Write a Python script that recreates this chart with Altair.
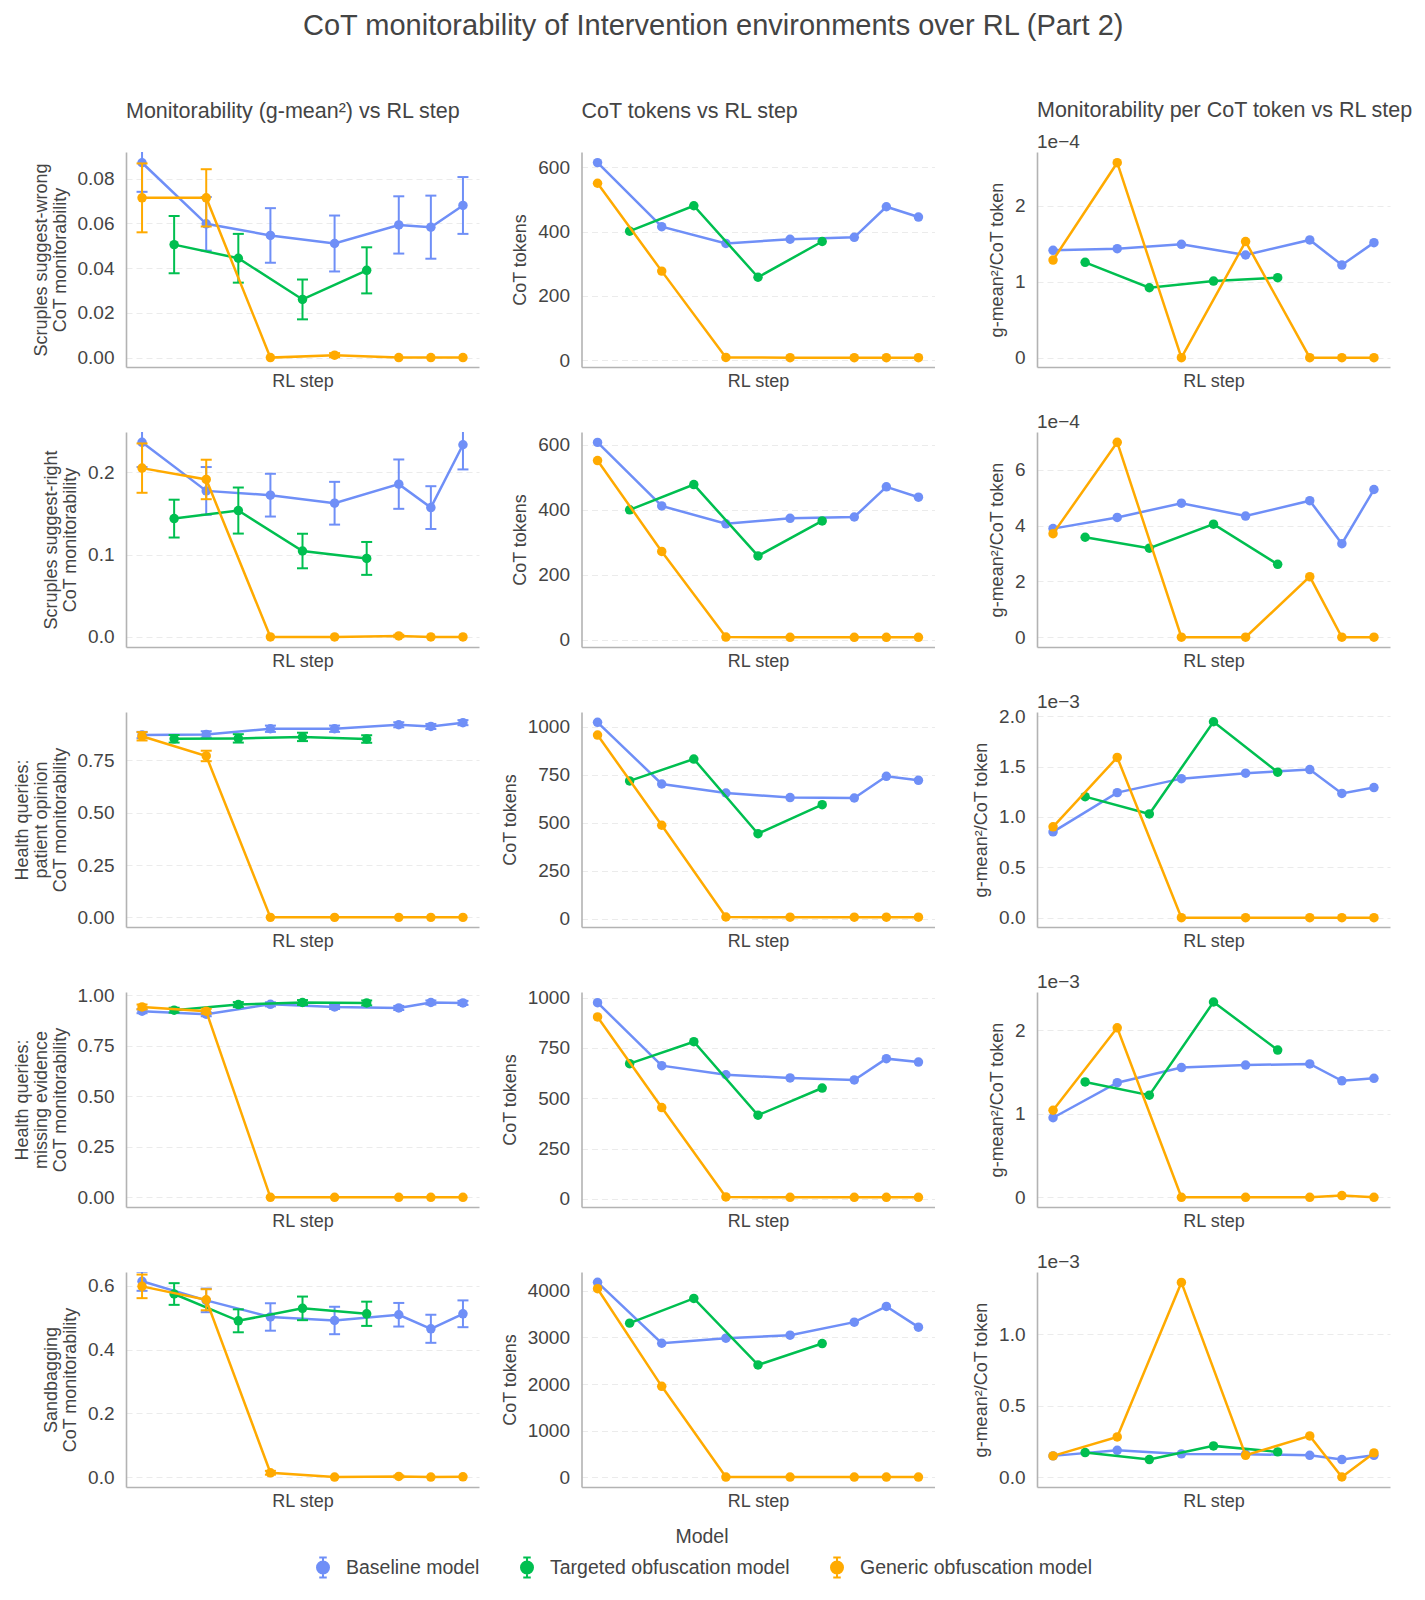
import altair as alt
import pandas as pd

FONT = "Liberation Sans"
TEXT = "#444444"
MODELS = ["Baseline model", "Targeted obfuscation model", "Generic obfuscation model"]
COLORS = ["#6F8FF7", "#00BF50", "#FFAA00"]

# RL-step positions (index along the axis)
steps_base = [0, 2, 4, 6, 8, 9, 10]
steps_targ = [1, 3, 5, 7]
steps_gen = [0, 2, 4, 6, 8, 9, 10]

row_titles = [
    ["Scruples suggest-wrong", "CoT monitorability"],
    ["Scruples suggest-right", "CoT monitorability"],
    ["Health queries:", "patient opinion", "CoT monitorability"],
    ["Health queries:", "missing evidence", "CoT monitorability"],
    ["Sandbagging", "CoT monitorability"],
]
col_titles = ["Monitorability (g-mean\u00b2) vs RL step", "CoT tokens vs RL step",
              "Monitorability per CoT token vs RL step"]

# ---- Column 1: monitorability (g-mean^2) with error half-widths ----
mon_base = [
    [0.0871, 0.0598, 0.0546, 0.0510, 0.0593, 0.0583, 0.0680],
    [0.2366, 0.1776, 0.1724, 0.1626, 0.1858, 0.1573, 0.2337],
    [0.871, 0.874, 0.901, 0.901, 0.920, 0.912, 0.930],
    [0.921, 0.906, 0.955, 0.942, 0.937, 0.964, 0.962],
    [0.614, 0.554, 0.502, 0.491, 0.509, 0.465, 0.512],
]
mon_base_err = [
    [0.013, 0.012, 0.0122, 0.0125, 0.0128, 0.0141, 0.0127],
    [0.030, 0.029, 0.026, 0.026, 0.030, 0.026, 0.030],
    [0.015, 0.015, 0.015, 0.015, 0.012, 0.012, 0.012],
    [0.010, 0.010, 0.010, 0.010, 0.010, 0.010, 0.010],
    [0.030, 0.037, 0.043, 0.043, 0.037, 0.044, 0.042],
]
mon_targ = [
    [0.0505, 0.0444, 0.0260, 0.0390],
    [0.1439, 0.1537, 0.1045, 0.0955],
    [0.853, 0.855, 0.862, 0.852],
    [0.926, 0.954, 0.964, 0.962],
    [0.574, 0.490, 0.529, 0.512],
]
mon_targ_err = [
    [0.0128, 0.0109, 0.0089, 0.0103],
    [0.023, 0.028, 0.021, 0.020],
    [0.018, 0.020, 0.020, 0.018],
    [0.012, 0.012, 0.012, 0.012],
    [0.034, 0.036, 0.037, 0.038],
]
mon_gen = [
    [0.0714, 0.0714, 0.0, 0.0011, 0.0, 0.0, 0.0],
    [0.2053, 0.1915, 0.0, 0.0, 0.0012, 0.0, 0.0],
    [0.865, 0.771, 0.0, 0.0, 0.0, 0.0, 0.0],
    [0.942, 0.921, 0.0, 0.0, 0.0, 0.0, 0.0],
    [0.598, 0.556, 0.0136, 0.0, 0.002, 0.0, 0.001],
]
mon_gen_err = [
    [0.0154, 0.0128, 0.0, 0.0009, 0.0, 0.0, 0.0],
    [0.030, 0.024, 0.0, 0.0, 0.0015, 0.0, 0.0],
    [0.020, 0.025, 0.0, 0.0, 0.0, 0.0, 0.0],
    [0.012, 0.012, 0.0, 0.0, 0.0, 0.0, 0.0],
    [0.037, 0.033, 0.006, 0.0, 0.003, 0.0, 0.0],
]

# ---- Column 2: CoT tokens ----
tok_base = [
    [614, 415, 363, 376, 382, 477, 445],
    [608, 412, 357, 374, 378, 471, 439],
    [1024, 703, 656, 632, 630, 743, 722],
    [975, 662, 617, 601, 591, 697, 680],
    [4179, 2874, 2982, 3047, 3326, 3663, 3219],
]
tok_targ = [
    [401, 480, 258, 369],
    [400, 478, 258, 366],
    [719, 833, 444, 595],
    [672, 781, 416, 551],
    [3305, 3835, 2409, 2867],
]
tok_gen = [
    [550, 277, 9, 8, 8, 8, 8],
    [552, 272, 8, 7, 7, 7, 7],
    [958, 488, 10, 9, 9, 9, 9],
    [904, 454, 10, 8, 8, 8, 8],
    [4043, 1950, 5, 4, 4, 4, 4],
]

# ---- Column 3: monitorability per CoT token ----
per_base = [
    [1.414e-4, 1.436e-4, 1.493e-4, 1.352e-4, 1.551e-4, 1.220e-4, 1.515e-4],
    [3.89e-4, 4.29e-4, 4.80e-4, 4.34e-4, 4.89e-4, 3.35e-4, 5.29e-4],
    [0.852e-3, 1.242e-3, 1.381e-3, 1.435e-3, 1.471e-3, 1.234e-3, 1.292e-3],
    [0.953e-3, 1.373e-3, 1.554e-3, 1.584e-3, 1.597e-3, 1.395e-3, 1.425e-3],
    [0.148e-3, 0.187e-3, 0.162e-3, 0.160e-3, 0.152e-3, 0.122e-3, 0.152e-3],
]
per_targ = [
    [1.256e-4, 0.921e-4, 1.009e-4, 1.053e-4],
    [3.58e-4, 3.19e-4, 4.05e-4, 2.61e-4],
    [1.202e-3, 1.030e-3, 1.946e-3, 1.445e-3],
    [1.382e-3, 1.223e-3, 2.339e-3, 1.764e-3],
    [0.171e-3, 0.122e-3, 0.218e-3, 0.176e-3],
]
per_gen = [
    [1.286e-4, 2.568e-4, 0.0, 1.529e-4, 0.0, 0.0, 0.0],
    [3.71e-4, 6.98e-4, 0.0, 0.0, 2.17e-4, 0.0, 0.0],
    [0.902e-3, 1.592e-3, 0.0, 0.0, 0.0, 0.0, 0.0],
    [1.043e-3, 2.030e-3, 0.0, 0.0, 0.0, 0.021e-3, 0.0],
    [0.148e-3, 0.281e-3, 1.363e-3, 0.152e-3, 0.288e-3, 0.0, 0.169e-3],
]

# ---- axis settings per panel ----
mon_domains = [[-0.0042, 0.0919], [-0.0122, 0.2492], [-0.046, 0.981], [-0.048, 1.016], [-0.031, 0.643]]
mon_ticks = [[0, 0.02, 0.04, 0.06, 0.08], [0, 0.1, 0.2], [0, 0.25, 0.5, 0.75],
             [0, 0.25, 0.5, 0.75, 1.0], [0, 0.2, 0.4, 0.6]]
mon_fmt = [".2f", ".1f", ".2f", ".2f", ".1f"]

tok_domains = [[-20.8, 647], [-22.7, 640], [-42, 1078], [-40, 1028], [-208, 4401]]
tok_ticks = [[0, 200, 400, 600], [0, 200, 400, 600], [0, 250, 500, 750, 1000],
             [0, 250, 500, 750, 1000], [0, 1000, 2000, 3000, 4000]]

per_domains = [[-0.123e-4, 2.709e-4], [-0.35e-4, 7.35e-4], [-0.093e-3, 2.043e-3],
               [-0.116e-3, 2.459e-3], [-0.070e-3, 1.436e-3]]
per_ticks = [[0, 1e-4, 2e-4], [0, 2e-4, 4e-4, 6e-4], [0, 0.5e-3, 1e-3, 1.5e-3, 2e-3],
             [0, 1e-3, 2e-3], [0, 0.5e-3, 1e-3]]
per_exp = [4, 4, 3, 3, 3]
per_fmt = [".0f", ".0f", ".1f", ".0f", ".1f"]

W, H = 353, 215
SYMBOL = ("M-0.375,-1H0.375M0,-1V1M-0.375,1H0.375"
          "M0.6,0A0.6,0.6,0,1,1,-0.6,0A0.6,0.6,0,1,1,0.6,0Z")

LEGEND = alt.Legend(
    title="Model", orient="none", legendX=186, legendY=1376, direction="horizontal",
    titleAnchor="middle", titleOrient="top", titleFont=FONT, titleFontSize=19.5,
    titleFontWeight="normal", titleColor=TEXT, titlePadding=9,
    labelFont=FONT, labelFontSize=19.5, labelColor=TEXT, labelOffset=12, labelLimit=0,
    columnPadding=36, symbolType=SYMBOL, symbolSize=400, symbolStrokeWidth=2,
    symbolOpacity=1, padding=0)

COLOR = alt.Color("model:N", scale=alt.Scale(domain=MODELS, range=COLORS), legend=LEGEND)
XENC = alt.X("step:Q", scale=alt.Scale(domain=[-0.5, 10.5], nice=False, zero=False),
             axis=alt.Axis(title="RL step", labels=False, ticks=False, grid=False, titlePadding=5))


def panel(series, domain, yaxis, title=None, exp=None, title_offset=30):
    ysc = alt.Scale(domain=domain, nice=False, zero=False)
    layers = []
    for i, (steps, vals, errs) in enumerate(series):
        model = MODELS[i]
        df = pd.DataFrame({"step": steps, "value": vals, "model": [model] * len(steps)})
        if errs is not None:
            df["lo"] = [v - e for v, e in zip(vals, errs)]
            df["hi"] = [v + e for v, e in zip(vals, errs)]
            df["e"] = errs
            de = df[df["e"] > 0]
            base_e = alt.Chart(de)
            layers.append(base_e.mark_rule(strokeWidth=2, clip=True).encode(
                x=XENC, y=alt.Y("lo:Q", scale=ysc, axis=yaxis), y2="hi:Q", color=COLOR))
            for f in ["lo", "hi"]:
                layers.append(base_e.mark_tick(orient="horizontal", size=11, thickness=2, clip=True,
                                               opacity=1).encode(
                    x=XENC, y=alt.Y(f + ":Q", scale=ysc, axis=yaxis), color=COLOR))
        base = alt.Chart(df)
        layers.append(base.mark_line(strokeWidth=2.5, clip=True).encode(
            x=XENC, y=alt.Y("value:Q", scale=ysc, axis=yaxis), color=COLOR))
        layers.append(base.mark_circle(size=90, opacity=1, clip=True).encode(
            x=XENC, y=alt.Y("value:Q", scale=ysc, axis=yaxis), color=COLOR))
    if exp is not None:
        layers.append(alt.Chart(pd.DataFrame({"t": [exp]})).mark_text(
            align="left", baseline="alphabetic", font=FONT, fontSize=19, color=TEXT).encode(
            x=alt.value(0), y=alt.value(-4), text="t:N"))
    ch = alt.layer(*layers).properties(width=W, height=H)
    if title is not None:
        ch = ch.properties(title=alt.TitleParams(
            text=title, anchor="start", frame="group", fontSize=21.5, fontWeight="normal",
            font=FONT, color=TEXT, offset=title_offset))
    return ch


panels = []
for r in range(5):
    # column 1
    ya = alt.Axis(title=row_titles[r], values=mon_ticks[r], format=mon_fmt[r], grid=True,
                  titlePadding=8, minExtent=0)
    panels.append(panel(
        [(steps_base, mon_base[r], mon_base_err[r]),
         (steps_targ, mon_targ[r], mon_targ_err[r]),
         (steps_gen, mon_gen[r], mon_gen_err[r])],
        mon_domains[r], ya, title=col_titles[0] if r == 0 else None))
    # column 2
    ya = alt.Axis(title="CoT tokens", values=tok_ticks[r], format="d", grid=True, titlePadding=8,
                  minExtent=0)
    panels.append(panel(
        [(steps_base, tok_base[r], None), (steps_targ, tok_targ[r], None),
         (steps_gen, tok_gen[r], None)],
        tok_domains[r], ya, title=col_titles[1] if r == 0 else None))
    # column 3
    k = per_exp[r]
    ya = alt.Axis(title="g-mean\u00b2/CoT token", values=per_ticks[r], grid=True, titlePadding=8,
                  minExtent=0,
                  labelExpr="format(datum.value * 1e%d, '%s')" % (k, per_fmt[r]))
    panels.append(panel(
        [(steps_base, per_base[r], None), (steps_targ, per_targ[r], None),
         (steps_gen, per_gen[r], None)],
        per_domains[r], ya, title=col_titles[2] if r == 0 else None,
        exp="1e\u2212%d" % k, title_offset=12))

chart = alt.ConcatChart(
    concat=panels, columns=3, spacing={"row": 65, "column": 102.5}, bounds="flush",
).properties(
    title=alt.TitleParams(text="CoT monitorability of Intervention environments over RL (Part 2)",
                          anchor="middle", fontSize=29, fontWeight="normal", font=FONT,
                          color=TEXT, offset=59),
    padding={"left": 5, "top": 3, "right": 0, "bottom": 4},
).configure_view(stroke=None).configure_axis(
    labelFont=FONT, titleFont=FONT, labelFontSize=19, titleFontSize=18,
    labelColor=TEXT, titleColor=TEXT, titleFontWeight="normal", titleLineHeight=19,
    domainColor="#b3b3b3", domainWidth=1.6, gridColor="#ebebeb", gridDash=[6, 4],
    gridWidth=1, ticks=False, labelPadding=12,
)

chart.save("out.html", embed_options={"renderer": "svg", "actions": False})
